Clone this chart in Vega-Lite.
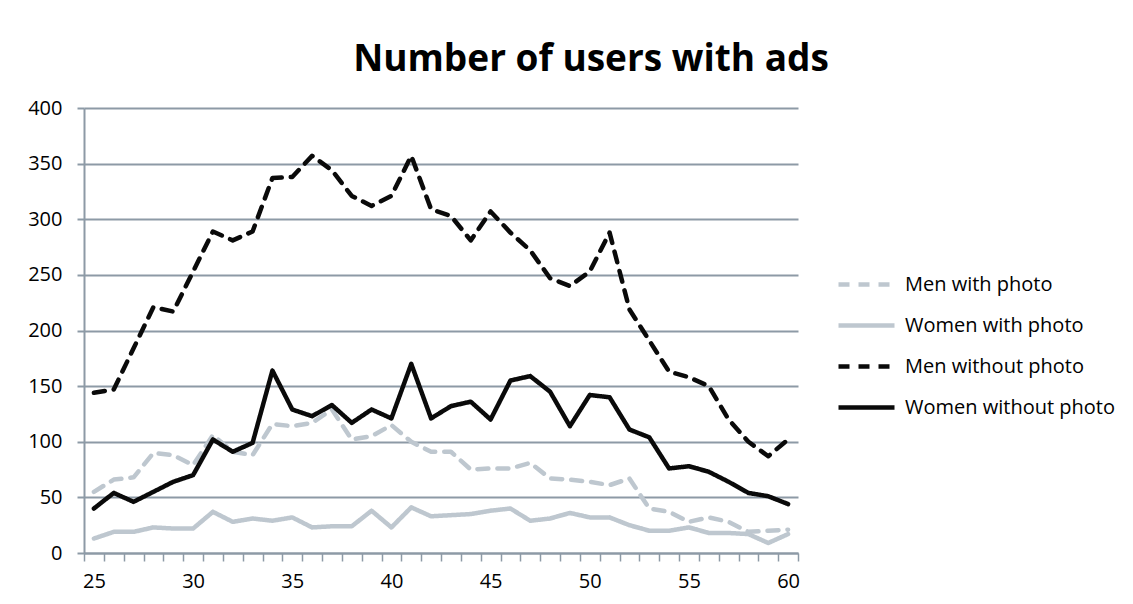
{
  "$schema": "https://vega.github.io/schema/vega-lite/v6.json",
  "width": 714,
  "height": 445,
  "autosize": {"type": "none"},
  "padding": {"left": 84, "top": 108, "right": 335, "bottom": 51},
  "background": "white",
  "title": {
    "text": "Number of users with ads",
    "font": "Open Sans",
    "fontSize": 37,
    "fontWeight": "bold",
    "color": "#000000",
    "anchor": "middle",
    "frame": "group",
    "dx": 150,
    "offset": 19
  },
  "data": {
    "values": [
      {"age": 25, "Men with photo": 55, "Women with photo": 13, "Men without photo": 144, "Women without photo": 40},
      {"age": 26, "Men with photo": 66, "Women with photo": 19, "Men without photo": 147, "Women without photo": 54},
      {"age": 27, "Men with photo": 68, "Women with photo": 19, "Men without photo": 184, "Women without photo": 46},
      {"age": 28, "Men with photo": 90, "Women with photo": 23, "Men without photo": 221, "Women without photo": 55},
      {"age": 29, "Men with photo": 88, "Women with photo": 22, "Men without photo": 217, "Women without photo": 64},
      {"age": 30, "Men with photo": 79, "Women with photo": 22, "Men without photo": 253, "Women without photo": 70},
      {"age": 31, "Men with photo": 106, "Women with photo": 37, "Men without photo": 289, "Women without photo": 102},
      {"age": 32, "Men with photo": 91, "Women with photo": 28, "Men without photo": 281, "Women without photo": 91},
      {"age": 33, "Men with photo": 88, "Women with photo": 31, "Men without photo": 289, "Women without photo": 99},
      {"age": 34, "Men with photo": 116, "Women with photo": 29, "Men without photo": 337, "Women without photo": 164},
      {"age": 35, "Men with photo": 114, "Women with photo": 32, "Men without photo": 338, "Women without photo": 129},
      {"age": 36, "Men with photo": 117, "Women with photo": 23, "Men without photo": 357, "Women without photo": 123},
      {"age": 37, "Men with photo": 129, "Women with photo": 24, "Men without photo": 344, "Women without photo": 133},
      {"age": 38, "Men with photo": 102, "Women with photo": 24, "Men without photo": 321, "Women without photo": 117},
      {"age": 39, "Men with photo": 105, "Women with photo": 38, "Men without photo": 312, "Women without photo": 129},
      {"age": 40, "Men with photo": 115, "Women with photo": 23, "Men without photo": 321, "Women without photo": 121},
      {"age": 41, "Men with photo": 100, "Women with photo": 41, "Men without photo": 357, "Women without photo": 170},
      {"age": 42, "Men with photo": 91, "Women with photo": 33, "Men without photo": 309, "Women without photo": 121},
      {"age": 43, "Men with photo": 91, "Women with photo": 34, "Men without photo": 303, "Women without photo": 132},
      {"age": 44, "Men with photo": 75, "Women with photo": 35, "Men without photo": 281, "Women without photo": 136},
      {"age": 45, "Men with photo": 76, "Women with photo": 38, "Men without photo": 307, "Women without photo": 120},
      {"age": 46, "Men with photo": 76, "Women with photo": 40, "Men without photo": 288, "Women without photo": 155},
      {"age": 47, "Men with photo": 81, "Women with photo": 29, "Men without photo": 272, "Women without photo": 159},
      {"age": 48, "Men with photo": 67, "Women with photo": 31, "Men without photo": 247, "Women without photo": 145},
      {"age": 49, "Men with photo": 66, "Women with photo": 36, "Men without photo": 240, "Women without photo": 114},
      {"age": 50, "Men with photo": 64, "Women with photo": 32, "Men without photo": 253, "Women without photo": 142},
      {"age": 51, "Men with photo": 61, "Women with photo": 32, "Men without photo": 288, "Women without photo": 140},
      {"age": 52, "Men with photo": 67, "Women with photo": 25, "Men without photo": 219, "Women without photo": 111},
      {"age": 53, "Men with photo": 40, "Women with photo": 20, "Men without photo": 191, "Women without photo": 104},
      {"age": 54, "Men with photo": 37, "Women with photo": 20, "Men without photo": 163, "Women without photo": 76},
      {"age": 55, "Men with photo": 28, "Women with photo": 23, "Men without photo": 158, "Women without photo": 78},
      {"age": 56, "Men with photo": 32, "Women with photo": 18, "Men without photo": 150, "Women without photo": 73},
      {"age": 57, "Men with photo": 28, "Women with photo": 18, "Men without photo": 120, "Women without photo": 64},
      {"age": 58, "Men with photo": 19, "Women with photo": 17, "Men without photo": 100, "Women without photo": 54},
      {"age": 59, "Men with photo": 20, "Women with photo": 9, "Men without photo": 87, "Women without photo": 51},
      {"age": 60, "Men with photo": 21, "Women with photo": 17, "Men without photo": 102, "Women without photo": 44}
    ]
  },
  "transform": [
    {"fold": ["Men with photo", "Women with photo", "Men without photo", "Women without photo"], "as": ["series", "count"]}
  ],
  "mark": {"type": "line", "strokeWidth": 4.5, "strokeJoin": "round", "strokeCap": "round"},
  "encoding": {
    "x": {
      "field": "age",
      "type": "quantitative",
      "scale": {"domain": [24.5, 60.5], "nice": false, "zero": false},
      "axis": {
        "title": null,
        "values": [24.5, 25.5, 26.5, 27.5, 28.5, 29.5, 30.5, 31.5, 32.5, 33.5, 34.5, 35.5, 36.5, 37.5, 38.5, 39.5, 40.5, 41.5, 42.5, 43.5, 44.5, 45.5, 46.5, 47.5, 48.5, 49.5, 50.5, 51.5, 52.5, 53.5, 54.5, 55.5, 56.5, 57.5, 58.5, 59.5, 60.5],
        "labelExpr": "(datum.value + 0.5) % 5 == 0 ? format(datum.value + 0.5, 'd') : ''",
        "labelOffset": 9.9,
        "labelFlush": false,
        "labelOverlap": false,
        "grid": false,
        "tickSize": 8,
        "tickColor": "#8D9AA6",
        "tickWidth": 1.5,
        "domainColor": "#8D9AA6",
        "domainWidth": 2,
        "labelFont": "Open Sans",
        "labelFontSize": 20,
        "labelColor": "#000000",
        "labelPadding": 10
      }
    },
    "y": {
      "field": "count",
      "type": "quantitative",
      "scale": {"domain": [0, 400], "nice": false},
      "axis": {
        "title": null,
        "values": [0, 50, 100, 150, 200, 250, 300, 350, 400],
        "grid": true,
        "gridColor": "#8D9AA6",
        "gridWidth": 2,
        "tickSize": 7,
        "tickColor": "#8D9AA6",
        "tickWidth": 2,
        "domainColor": "#8D9AA6",
        "domainWidth": 2,
        "labelFont": "Open Sans",
        "labelFontSize": 20,
        "labelColor": "#000000",
        "labelPadding": 15
      }
    },
    "color": {
      "field": "series",
      "type": "nominal",
      "scale": {
        "domain": ["Men with photo", "Women with photo", "Men without photo", "Women without photo"],
        "range": ["#BEC7CF", "#BEC7CF", "#0A0A0A", "#0A0A0A"]
      },
      "legend": {
        "title": null,
        "orient": "none",
        "legendX": 752,
        "legendY": 146,
        "symbolType": "stroke",
        "symbolSize": 3136,
        "symbolStrokeWidth": 4.5,
        "rowPadding": -11,
        "labelFont": "Open Sans",
        "labelFontSize": 20,
        "labelLimit": 400,
        "labelColor": "#000000",
        "labelOffset": 8
      }
    },
    "strokeDash": {
      "field": "series",
      "type": "nominal",
      "scale": {
        "domain": ["Men with photo", "Women with photo", "Men without photo", "Women without photo"],
        "range": [[11, 9], [1, 0], [11, 9], [1, 0]]
      },
      "legend": {
        "title": null,
        "orient": "none",
        "legendX": 752,
        "legendY": 146,
        "symbolType": "stroke",
        "symbolSize": 3136,
        "symbolStrokeWidth": 4.5,
        "rowPadding": -11,
        "labelFont": "Open Sans",
        "labelFontSize": 20,
        "labelLimit": 400,
        "labelColor": "#000000",
        "labelOffset": 8
      }
    }
  },
  "config": {
    "view": {"stroke": null}
  }
}
